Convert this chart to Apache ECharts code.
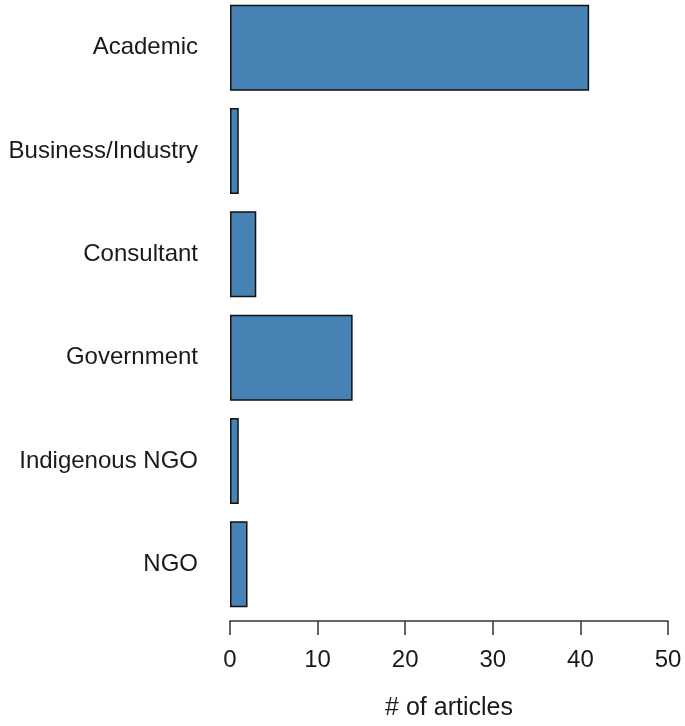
<!DOCTYPE html>
<html>
<head>
<meta charset="utf-8">
<script src="https://cdn.jsdelivr.net/npm/echarts@6/dist/echarts.min.js"></script>
<style>
  html, body { margin: 0; padding: 0; background: #fff; overflow: hidden; }
  #main { position: relative; top: -4px; width: 685px; height: 730px; }
</style>
</head>
<body>
<div id="main"></div>
<script>
// categories top to bottom
var categories = ["Academic", "Business/Industry", "Consultant", "Government", "Indigenous NGO", "NGO"];
var articles = [41, 1, 3, 14, 1, 2];
var xTicks = [0, 10, 20, 30, 40, 50];

var chart = echarts.init(document.getElementById("main"));
var font = "'Liberation Sans', Arial, sans-serif";

var option = {
    backgroundColor: "#fff",
    animation: false,
    grid: {
        left: 230,
        right: 17,
        top: 0,
        bottom: 109.3,
        containLabel: false
    },
    xAxis: {
        type: "value",
        min: xTicks[0],
        max: xTicks[xTicks.length - 1],
        interval: 10,
        offset: 5,
        name: "# of articles",
        nameLocation: "middle",
        nameGap: 75,
        nameTextStyle: { color: "#1a1a1a", fontSize: 25, fontFamily: font },
        axisLine: { show: true, lineStyle: { color: "#333", width: 1.5 } },
        axisTick: { show: true, length: 14, lineStyle: { color: "#333", width: 1.5 } },
        axisLabel: { color: "#1a1a1a", fontSize: 24, fontFamily: font, margin: 27 },
        splitLine: { show: false }
    },
    yAxis: {
        type: "category",
        inverse: true,
        data: categories,
        axisLine: { show: false },
        axisTick: { show: false },
        axisLabel: { color: "#1a1a1a", fontSize: 24, fontFamily: font, margin: 32, padding: [4, 0, 0, 0] }
    },
    series: [{
        type: "bar",
        data: articles,
        barCategoryGap: "16.8%",
        itemStyle: {
            color: "#4682B4",
            borderColor: "#111",
            borderWidth: 1.5
        }
    }]
};
chart.setOption(option);
</script>
</body>
</html>
